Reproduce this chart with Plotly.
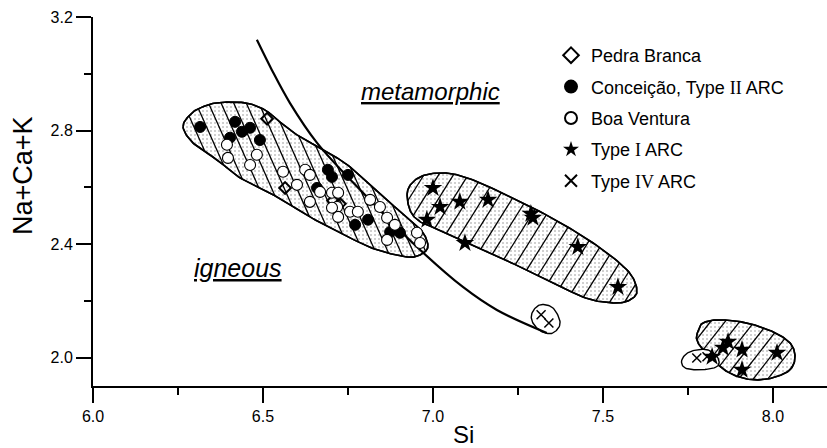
import numpy as np
import plotly.graph_objects as go

# ---------------- data ----------------
pedra_si = [6.512, 6.565, 6.706, 6.726]
pedra_nck = [2.842, 2.598, 2.553, 2.542]

conc_si = [6.315, 6.418, 6.403, 6.438, 6.462, 6.491, 6.691, 6.703, 6.750, 6.659, 6.771, 6.809, 6.874, 6.903]
conc_nck = [2.813, 2.831, 2.775, 2.796, 2.810, 2.767, 2.662, 2.637, 2.644, 2.598, 2.468, 2.486, 2.443, 2.440]

boa_si = [6.397, 6.394, 6.462, 6.482, 6.559, 6.600, 6.624, 6.638, 6.638, 6.668, 6.703, 6.721, 6.718,
          6.756, 6.779, 6.815, 6.844, 6.865, 6.888, 6.865, 6.953, 6.962, 6.703, 6.721]
boa_nck = [2.704, 2.750, 2.679, 2.715, 2.655, 2.609, 2.662, 2.644, 2.549, 2.584, 2.581, 2.581, 2.531,
           2.514, 2.514, 2.556, 2.531, 2.493, 2.468, 2.415, 2.440, 2.404, 2.528, 2.496]

typeI_si = [7.000, 7.021, 7.079, 7.162, 6.982, 7.094, 7.294, 7.288, 7.426, 7.544,
            7.868, 7.853, 7.909, 8.012, 7.909, 7.821]
typeI_nck = [2.598, 2.531, 2.549, 2.556, 2.486, 2.404, 2.493, 2.507, 2.390, 2.249,
             2.056, 2.035, 2.028, 2.017, 1.957, 2.003]

typeIV_si = [7.318, 7.341, 7.776, 7.806]
typeIV_nck = [2.151, 2.122, 1.999, 2.003]

# igneous / metamorphic boundary curve
curve_si = [6.482, 6.526, 6.579, 6.659, 6.794, 6.953, 7.088, 7.188, 7.335]
curve_nck = [3.120, 3.014, 2.898, 2.757, 2.581, 2.390, 2.249, 2.168, 2.087]

# field outlines (control points)
field1_si = [6.265, 6.285, 6.315, 6.365, 6.447, 6.506, 6.535, 6.600, 6.688, 6.756, 6.853, 6.932, 6.971,
             6.985, 6.962, 6.924, 6.835, 6.756, 6.638, 6.541, 6.441, 6.365, 6.294]
field1_nck = [2.813, 2.856, 2.880, 2.898, 2.898, 2.873, 2.845, 2.785, 2.725, 2.672, 2.567, 2.486, 2.440,
              2.390, 2.362, 2.355, 2.380, 2.422, 2.496, 2.567, 2.627, 2.697, 2.757]
field2_si = [6.926, 6.962, 7.029, 7.100, 7.197, 7.344, 7.471, 7.571, 7.600, 7.579, 7.529, 7.441, 7.294,
             7.147, 7.021, 6.962, 6.932]
field2_nck = [2.591, 2.637, 2.651, 2.634, 2.584, 2.496, 2.404, 2.309, 2.238, 2.203, 2.193, 2.214, 2.299,
              2.380, 2.450, 2.479, 2.521]
field3_si = [7.779, 7.794, 7.844, 7.924, 8.000, 8.050, 8.065, 8.050, 8.000, 7.941, 7.882, 7.838, 7.794, 7.776]
field3_nck = [2.091, 2.122, 2.133, 2.122, 2.091, 2.052, 2.003, 1.957, 1.929, 1.922, 1.940, 1.975, 2.028, 2.063]
fieldx1_si = [7.291, 7.315, 7.353, 7.374, 7.353, 7.321, 7.294]
fieldx1_nck = [2.157, 2.186, 2.175, 2.122, 2.087, 2.091, 2.122]
fieldx2_si = [7.732, 7.756, 7.806, 7.838, 7.835, 7.785, 7.741]
fieldx2_nck = [1.992, 2.021, 2.028, 1.999, 1.968, 1.957, 1.964]

x_range = [6.0, 8.159]
y_range = [1.9, 3.2005]

# ---------------- geometry helpers ----------------
W, H = 827, 448
ML, MR, MT, MB = 93, 0, 17, 62
PW, PH = W - ML - MR, H - MT - MB


def to_px(x, y):
    return (ML + (x - x_range[0]) / (x_range[1] - x_range[0]) * PW,
            MT + (y_range[1] - y) / (y_range[1] - y_range[0]) * PH)


def to_data(px, py):
    return (x_range[0] + (px - ML) / PW * (x_range[1] - x_range[0]),
            y_range[1] - (py - MT) / PH * (y_range[1] - y_range[0]))


def smooth_closed(xs, ys, n=14):
    P = np.array([to_px(x, y) for x, y in zip(xs, ys)])
    m = len(P)
    out = []
    for i in range(m):
        p0, p1, p2, p3 = P[(i - 1) % m], P[i], P[(i + 1) % m], P[(i + 2) % m]
        for t in np.linspace(0, 1, n, endpoint=False):
            t2, t3 = t * t, t * t * t
            out.append(0.5 * ((2 * p1) + (-p0 + p2) * t + (2 * p0 - 5 * p1 + 4 * p2 - p3) * t2
                              + (-p0 + 3 * p1 - 3 * p2 + p3) * t3))
    out.append(out[0])
    return np.array(out)


def poly_data(poly):
    xs, ys = zip(*[to_data(*q) for q in poly])
    return list(xs), list(ys)


def hatch(poly, angle_deg, spacing, slope):
    th = np.radians(angle_deg)
    d = np.array([np.cos(th), -np.sin(th)]) if slope == '/' else np.array([np.cos(th), np.sin(th)])
    nrm = np.array([-d[1], d[0]])
    proj = poly @ nrm
    c = proj.min() + spacing * 0.5
    hx, hy = [], []
    while c < proj.max():
        pts = []
        for i in range(len(poly) - 1):
            a, b = poly[i], poly[i + 1]
            pa, pb = a @ nrm - c, b @ nrm - c
            if (pa < 0) != (pb < 0):
                t = pa / (pa - pb)
                pts.append(a + t * (b - a))
        pts.sort(key=lambda q: q @ d)
        for j in range(0, len(pts) - 1, 2):
            for q in (pts[j], pts[j + 1]):
                x, y = to_data(*q)
                hx.append(x)
                hy.append(y)
            hx.append(None)
            hy.append(None)
        c += spacing
    return hx, hy


fig = go.Figure()

stipple = dict(shape='.', fgcolor='#8a8a8a', bgcolor='white', size=4, solidity=0.22)


def add_field(xs, ys, angle, spacing, slope):
    poly = smooth_closed(xs, ys)
    px_, py_ = poly_data(poly)
    fig.add_trace(go.Scatter(x=px_, y=py_, mode='lines', fill='toself', fillpattern=stipple,
                             line=dict(color='black', width=1.6), showlegend=False, hoverinfo='skip'))
    hx, hy = hatch(poly, angle, spacing, slope)
    fig.add_trace(go.Scatter(x=hx, y=hy, mode='lines', line=dict(color='black', width=1.3),
                             showlegend=False, hoverinfo='skip'))
    fig.add_trace(go.Scatter(x=px_, y=py_, mode='lines', line=dict(color='black', width=1.6),
                             showlegend=False, hoverinfo='skip'))


def add_plain(xs, ys):
    poly = smooth_closed(xs, ys)
    px_, py_ = poly_data(poly)
    fig.add_trace(go.Scatter(x=px_, y=py_, mode='lines', fill='toself', fillcolor='white',
                             line=dict(color='black', width=1.4), showlegend=False, hoverinfo='skip'))


add_field(field1_si, field1_nck, 66, 11.5, '\\')
add_field(field2_si, field2_nck, 58, 12.5, '/')
add_field(field3_si, field3_nck, 52, 11.5, '/')
add_plain(fieldx1_si, fieldx1_nck)
add_plain(fieldx2_si, fieldx2_nck)

fig.add_trace(go.Scatter(x=curve_si, y=curve_nck, mode='lines', line=dict(color='black', width=2.2, shape='spline'),
                         showlegend=False, hoverinfo='skip'))

serif = "<span style='font-family:Liberation Serif'>{}</span>"

fig.add_trace(go.Scatter(x=pedra_si, y=pedra_nck, mode='markers', name='Pedra Branca',
                         legendgroup='a',
                         marker=dict(symbol='diamond-open', size=9, color='black', line=dict(width=2))))
fig.add_trace(go.Scatter(x=conc_si, y=conc_nck, mode='markers', name='Conceição, Type ' + serif.format('II') + ' ARC',
                         legendgroup='b',
                         marker=dict(symbol='circle', size=11, color='black', line=dict(color='black', width=1))))
fig.add_trace(go.Scatter(x=boa_si, y=boa_nck, mode='markers', name='Boa Ventura',
                         legendgroup='c',
                         marker=dict(symbol='circle', size=11, color='white', line=dict(color='black', width=1.1))))
fig.add_trace(go.Scatter(x=typeI_si, y=typeI_nck, mode='markers', name='Type ' + serif.format('I') + ' ARC',
                         legendgroup='d',
                         marker=dict(symbol='star', size=14, color='black', line=dict(width=0))))
fig.add_trace(go.Scatter(x=typeIV_si, y=typeIV_nck, mode='markers', name='Type ' + serif.format('IV') + ' ARC',
                         legendgroup='e',
                         marker=dict(symbol='x-thin-open', size=9, color='black', line=dict(width=1.5, color='black'))))

font = "Liberation Sans, Arial, sans-serif"

fig.update_layout(
    width=W, height=H,
    margin=dict(l=ML, r=MR, t=MT, b=MB, autoexpand=False),
    paper_bgcolor='white', plot_bgcolor='white',
    font=dict(family=font, color='black', size=15),
    showlegend=True,
    legend=dict(x=(551 - ML) / PW, y=1 - (37 - MT) / PH, xanchor='left', yanchor='top',
                bgcolor='rgba(0,0,0,0)', font=dict(size=18, family=font, color='black'),
                tracegroupgap=5, traceorder='grouped', itemsizing='constant'),
    xaxis=dict(range=x_range, showgrid=False, zeroline=False, showline=True, linecolor='black', linewidth=2,
               ticks='outside', ticklen=15, tickwidth=1.5, tickcolor='black', tick0=6.0, dtick=0.5,
               tickformat='.1f', tickfont=dict(size=16),
               minor=dict(ticks='outside', ticklen=7, tickwidth=1.5, tickcolor='black', tick0=6.0, dtick=0.25)),
    yaxis=dict(range=y_range, showgrid=False, zeroline=False, showline=True, linecolor='black', linewidth=2,
               ticks='outside', ticklen=15, tickwidth=1.5, tickcolor='black', tick0=2.0, dtick=0.4,
               tickformat='.1f', tickfont=dict(size=16),
               minor=dict(ticks='outside', ticklen=7, tickwidth=1.5, tickcolor='black', tick0=2.0, dtick=0.2)),
    annotations=[
        dict(text='Si', xref='paper', yref='paper', x=(463 - ML) / PW, y=-(434 - (H - MB)) / PH,
             showarrow=False, font=dict(size=24, family=font), xanchor='center', yanchor='middle'),
        dict(text='Na+Ca+K', xref='paper', yref='paper', x=(23 - ML) / PW, y=1 - (176 - MT) / PH,
             showarrow=False, font=dict(size=27, family=font), textangle=-90, xanchor='center', yanchor='middle'),
        dict(text='<i><u>metamorphic</u></i>', x=6.994, y=2.937, xref='x', yref='y', showarrow=False,
             font=dict(size=24, family=font)),
        dict(text='<i><u>igneous</u></i>', x=6.426, y=2.316, xref='x', yref='y', showarrow=False,
             font=dict(size=25, family=font)),
    ],
)

fig.write_html("out.html", config={'displayModeBar': False},
               post_script="document.body.style.margin='0px';document.body.style.overflow='hidden';")
